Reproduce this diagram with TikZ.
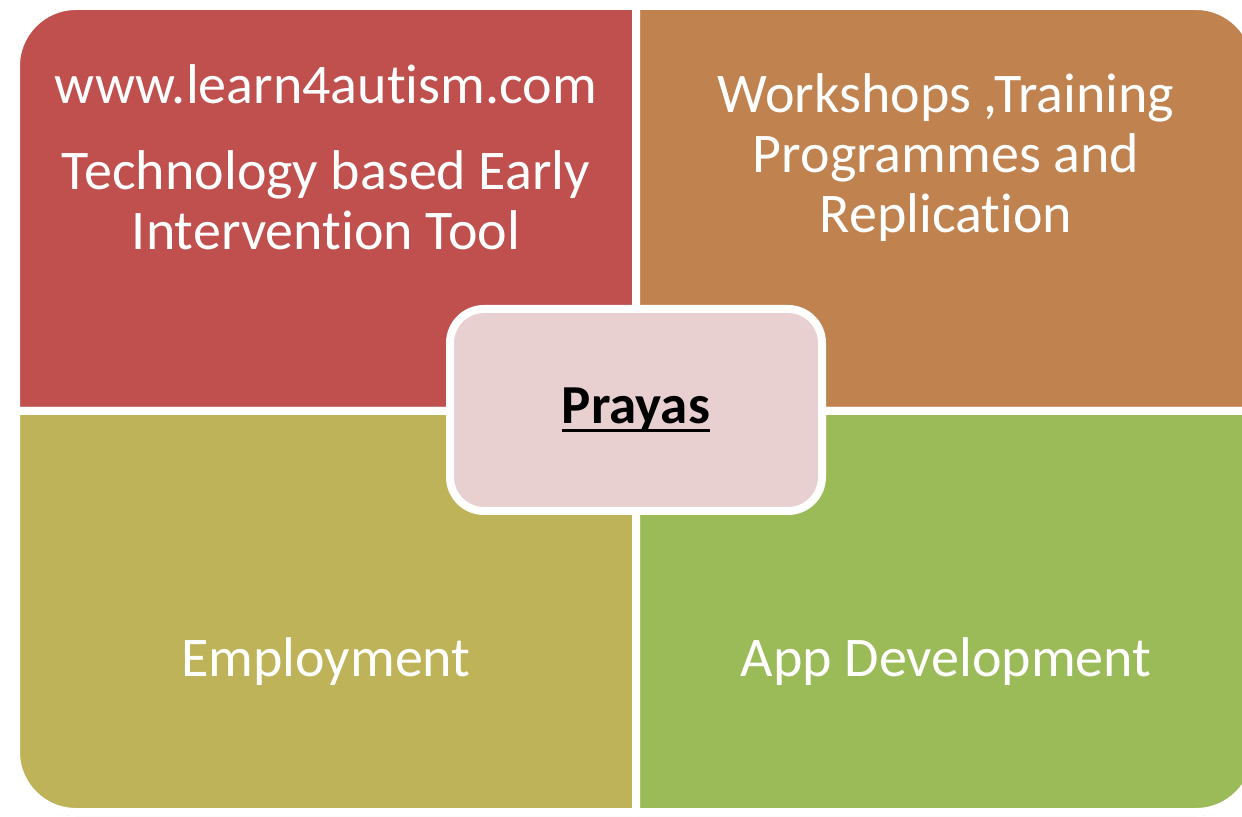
\documentclass[tikz,border=0pt]{standalone}
\usepackage{fontspec}
\setmainfont{Carlito}[Ligatures=NoCommon]
\usetikzlibrary{positioning,shadows}
\definecolor{quadred}{HTML}{C0504D}
\definecolor{quadorange}{HTML}{C0824F}
\definecolor{quadolive}{HTML}{BFB359}
\definecolor{quadgreen}{HTML}{9BBB59}
\definecolor{centerpink}{HTML}{E8D0D1}
\newcommand{\thickuline}[1]{\setbox0\hbox{#1}\rlap{\rule[-4.5pt]{\wd0}{1.5pt}}\box0}

\begin{document}
\begin{tikzpicture}[x=0.5pt,y=-0.5pt,
    quad/.style={draw=white,line width=4pt,drop shadow={shadow xshift=0pt,shadow yshift=-2pt,opacity=.25}},
    quadtext/.style={text=white,font=\fontsize{28}{30}\selectfont,align=center},
    centerbox/.style={draw=white,line width=4pt,fill=centerpink,rounded corners=17pt,minimum width=186pt,minimum height=101pt,font=\fontsize{27.5}{30}\selectfont\bfseries,drop shadow={shadow xshift=0pt,shadow yshift=-2pt,opacity=.25}}]
  \useasboundingbox (0,0) rectangle (1242,817);
  % four quarters, one rounded outer corner each
  \draw[quad,fill=quadred] (636,411) -- (16,411) -- (16,66) arc[start angle=180,end angle=270,radius=60] -- (636,6) -- cycle;
  \draw[quad,fill=quadorange] (636,411) -- (636,6) -- (1196,6) arc[start angle=270,end angle=360,radius=60] -- (1256,411) -- cycle;
  \draw[quad,fill=quadolive] (636,411) -- (16,411) -- (16,752) arc[start angle=180,end angle=90,radius=60] -- (636,812) -- cycle;
  \draw[quad,fill=quadgreen] (636,411) -- (636,812) -- (1196,812) arc[start angle=90,end angle=0,radius=60] -- (1256,411) -- cycle;
  % texts
  \node[quadtext] (url) at (326,84) {www.learn4autism.com};
  \node[quadtext] (tool) at (326,200) {Technology based Early\\Intervention Tool};
  \node[quadtext] (workshops) at (946,158) {Workshops ,Training\\Programmes and\\Replication};
  \node[quadtext] (employment) at (326,662) {Employment};
  \node[quadtext] (app) at (946,662) {App Development};
  % centre box
  \node[centerbox] (prayas) at (636,410) {\thickuline{Prayas}};
\end{tikzpicture}
\end{document}
